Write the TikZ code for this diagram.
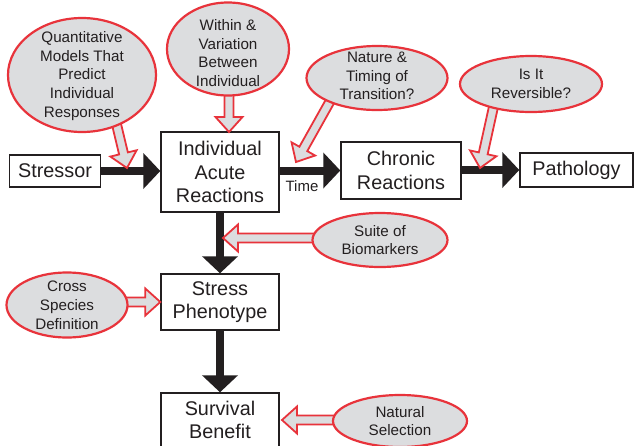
\documentclass[tikz,border=0pt]{standalone}
\usepackage{fontspec}
\setmainfont{Liberation Sans}
\usetikzlibrary{arrows.meta,shapes.geometric,calc}
\definecolor{ered}{HTML}{E8333B}
\definecolor{efill}{HTML}{DCDDDF}
\definecolor{ink}{HTML}{231F20}
\tikzset{
  box/.style={draw=ink, line width=1.4pt, fill=white, inner sep=0pt, align=center,
    font=\fontsize{19.8}{23.5}\selectfont, text=ink},
  bubble/.style={ellipse, draw=ered, line width=2.2pt, fill=efill, inner sep=0pt},
  btext/.style={align=center, inner sep=0pt, font=\fontsize{15.2}{18.8}\selectfont, text=ink},
  bigarrow/.style={draw=ink, line width=8pt, -{Triangle[length=17pt,width=35pt]}},
  harrow/.style={draw=ered, line width=1.8pt, fill=efill, line join=miter},
}
\newcommand{\hollowarrow}[2]{%
  \filldraw[harrow]
    ($(#1)!4.5pt!90:(#2)$) --
    ($(#2)!15pt!(#1)!4.5pt!-90:(#1)$) --
    ($(#2)!15pt!(#1)!13.5pt!-90:(#1)$) --
    (#2) --
    ($(#2)!15pt!(#1)!13.5pt!90:(#1)$) --
    ($(#2)!15pt!(#1)!4.5pt!90:(#1)$) --
    ($(#1)!4.5pt!-90:(#2)$) -- cycle;}
\begin{document}
\begin{tikzpicture}[x=1pt,y=-1pt]
\clip (0,0) rectangle (635,445);
\fill[white] (0,0) rectangle (635,445);

% boxes
\node[box, minimum width=91pt, minimum height=32pt] (stressor) at (55,171) {Stressor};
\node[box, minimum width=118pt, minimum height=80pt] (iar) at (220,172) {Individual\\Acute\\Reactions};
\node[box, minimum width=120pt, minimum height=57pt] (chronic) at (401,170.5) {Chronic\\Reactions};
\node[box, minimum width=113pt, minimum height=34pt] (path) at (576.5,170) {Pathology};
\node[box, minimum width=118pt, minimum height=56pt] (sp) at (220,302) {Stress\\Phenotype};
\node[box, minimum width=118pt, minimum height=54pt] (sb) at (220,420) {Survival\\Benefit};

% main black arrows
\draw[bigarrow] (stressor.east) -- (stressor.east -| iar.west);
\draw[bigarrow] (chronic.west -| iar.east) -- (chronic.west);
\draw[bigarrow] (chronic.east |- path.west) -- (path.west);
\draw[bigarrow] (iar.south) -- (sp.north);
\draw[bigarrow] (sp.south) -- (sb.north);
\node[btext, font=\fontsize{15}{18}\selectfont] (time) at (302,186) {Time};

% named ends of the hollow arrows
\coordinate (qs) at (115,118);  \coordinate (qt) at (127,168);
\coordinate (ws) at (229,88);   \coordinate (wt) at (229,132);
\coordinate (ns) at (333,96);   \coordinate (nt) at (296,162);
\coordinate (rs) at (495,100);  \coordinate (rt) at (480,168);
\coordinate (ss) at (325,238);  \coordinate (st) at (223,238);
\coordinate (cs) at (120,302);
\coordinate (as) at (345,420);  \coordinate (at) at (282,420);

\hollowarrow{qs}{qt}
\hollowarrow{ws}{wt}
\hollowarrow{ns}{nt}
\hollowarrow{rs}{rt}
\hollowarrow{ss}{st}
\hollowarrow{cs}{sp.west}
\hollowarrow{as}{at}

% ellipses
\node[bubble, minimum width=148pt, minimum height=114pt,
  label={[btext, yshift=-1pt]center:{Quantitative\\Models That\\Predict\\Individual\\Responses}}] (q) at (82,75) {};
\node[bubble, minimum width=122pt, minimum height=93pt,
  label={[btext, yshift=-4pt]center:{Within \&\\Variation\\Between\\Individual}}] (w) at (228,49) {};
\node[bubble, minimum width=141pt, minimum height=64pt,
  label={[btext, yshift=2pt]center:{Nature \&\\Timing of\\Transition?}}] (n) at (377,78) {};
\node[bubble, minimum width=142pt, minimum height=56pt,
  label={[btext]center:{Is It\\Reversible?}}] (r) at (531,84) {};
\node[bubble, minimum width=135pt, minimum height=54pt,
  label={[btext]center:{Suite of\\Biomarkers}}] (suite) at (380,240) {};
\node[bubble, minimum width=121pt, minimum height=65pt,
  label={[btext]center:{Cross\\Species\\Definition}}] (cross) at (67,305) {};
\node[bubble, minimum width=134pt, minimum height=52pt,
  label={[btext]center:{Natural\\Selection}}] (nat) at (400,421) {};
\end{tikzpicture}
\end{document}
